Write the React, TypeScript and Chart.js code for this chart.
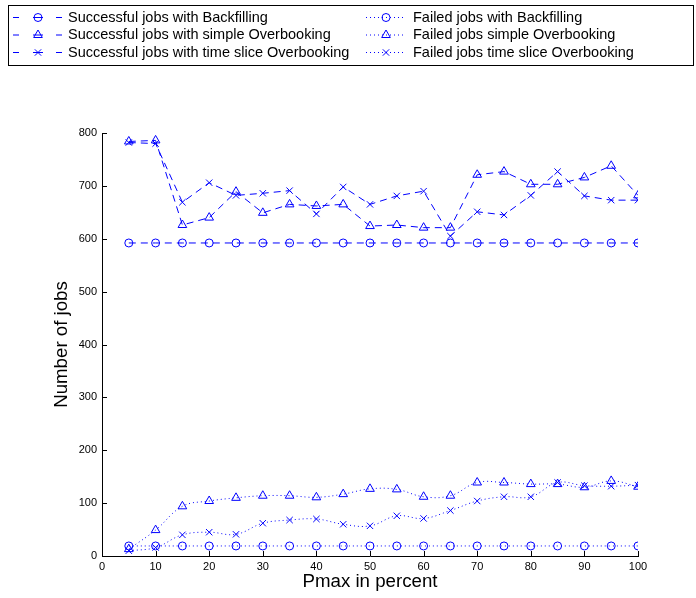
import React, { useEffect, useRef } from 'react';
import { Chart, registerables } from 'chart.js';

Chart.register(...registerables);

const pmax = [5, 10, 15, 20, 25, 30, 35, 40, 45, 50, 55, 60, 65, 70, 75, 80, 85, 90, 95, 100];
const xTicks = [0, 10, 20, 30, 40, 50, 60, 70, 80, 90, 100];
const yTicks = [0, 100, 200, 300, 400, 500, 600, 700, 800];

const succBackfilling = [592, 592, 592, 592, 592, 592, 592, 592, 592, 592, 592, 592, 592, 592, 592, 592, 592, 592, 592, 592];
const succSimple = [784, 786, 626, 640, 689, 649, 665, 662, 665, 624, 626, 621, 621, 721, 727, 703, 703, 716, 738, 682];
const succTimeSlice = [782, 780, 669, 706, 682, 686, 691, 647, 698, 665, 681, 690, 605, 651, 645, 682, 727, 681, 673, 673];
const failBackfilling = [19, 19, 19, 19, 19, 19, 19, 19, 19, 19, 19, 19, 19, 19, 19, 19, 19, 19, 19, 19];
const failSimple = [13, 49, 94, 104, 110, 114, 114, 111, 117, 127, 126, 112, 114, 139, 139, 136, 136, 130, 142, 131];
const failTimeSlice = [10, 16, 40, 45, 41, 62, 68, 70, 60, 57, 76, 71, 86, 104, 112, 112, 139, 133, 132, 134];

const seriesLabels = [
  'Successful jobs with Backfilling',
  'Successful jobs with simple Overbooking',
  'Successful jobs with time slice Overbooking',
  'Failed jobs with Backfilling',
  'Failed jobs simple Overbooking',
  'Failed jobs time slice Overbooking',
];

const xTitle = 'Pmax in percent';
const yTitle = 'Number of jobs';

const BLUE = 'rgb(0,0,255)';
const FONT = '"Liberation Sans", Arial, Helvetica, sans-serif';

type Style = 'circle' | 'triangle' | 'crossRot';

function drawMarker(ctx: CanvasRenderingContext2D, style: Style, x: number, y: number, r: number) {
  ctx.beginPath();
  if (style === 'circle') {
    ctx.arc(x, y, r, 0, Math.PI * 2);
  } else if (style === 'triangle') {
    const h = r * 1.5;
    const w = r * Math.sqrt(3);
    ctx.moveTo(x, y - r);
    ctx.lineTo(x + w / 2, y - r + h);
    ctx.lineTo(x - w / 2, y - r + h);
    ctx.closePath();
  } else {
    const o = r * 0.707;
    ctx.moveTo(x - o, y - o);
    ctx.lineTo(x + o, y + o);
    ctx.moveTo(x + o, y - o);
    ctx.lineTo(x - o, y + o);
  }
  ctx.stroke();
}

const extrasPlugin = {
  id: 'extras',
  afterDraw(chart: any) {
    const ctx: CanvasRenderingContext2D = chart.ctx;
    const xs = chart.scales.x;
    const ys = chart.scales.y;
    const { left, bottom } = chart.chartArea;
    ctx.save();
    // inside tick marks
    ctx.strokeStyle = '#000';
    ctx.lineWidth = 1;
    ctx.setLineDash([]);
    ctx.beginPath();
    ys.ticks.forEach((t: any) => {
      const py = Math.round(ys.getPixelForValue(t.value)) + 0.5;
      ctx.moveTo(left, py);
      ctx.lineTo(left + 5, py);
    });
    xs.ticks.forEach((t: any) => {
      const px = Math.round(xs.getPixelForValue(t.value)) + 0.5;
      ctx.moveTo(px, bottom);
      ctx.lineTo(px, bottom - 5);
    });
    ctx.stroke();

    // legend box
    ctx.strokeStyle = '#000';
    ctx.lineWidth = 1;
    ctx.strokeRect(8.5, 5.5, 685, 60);

    const rows = [17.5, 35, 52.5];
    const ds = chart.data.datasets;
    ctx.font = '14.5px ' + FONT;
    ctx.textBaseline = 'middle';
    ctx.textAlign = 'left';
    for (let i = 0; i < 6; i++) {
      const d = ds[i];
      const col = i < 3 ? 0 : 1;
      const y = rows[i % 3];
      ctx.strokeStyle = BLUE;
      ctx.lineWidth = 1;
      if (col === 0) {
        ctx.setLineDash([]);
        ctx.beginPath();
        ctx.moveTo(13, y); ctx.lineTo(19, y);
        ctx.moveTo(33, y); ctx.lineTo(43, y);
        ctx.moveTo(56, y); ctx.lineTo(62, y);
        ctx.stroke();
        drawMarker(ctx, d.pointStyle, 38, y, d.pointRadius);
      } else {
        ctx.setLineDash([1, 3]);
        ctx.beginPath();
        ctx.moveTo(366, y); ctx.lineTo(406, y);
        ctx.stroke();
        ctx.setLineDash([]);
        drawMarker(ctx, d.pointStyle, 386, y, d.pointRadius);
      }
      ctx.fillStyle = '#000';
      ctx.fillText(d.label, col === 0 ? 68 : 413, y);
    }
    ctx.restore();
  },
};

function mk(label: string, vals: number[], style: Style, dashed: boolean, radius: number) {
  return {
    label,
    data: pmax.map((x, i) => ({ x, y: vals[i] })),
    borderColor: BLUE,
    backgroundColor: 'transparent',
    borderWidth: 1,
    borderDash: dashed ? [7, 5] : [1, 3],
    tension: dashed ? 0 : 0.4,
    pointStyle: style,
    pointRadius: radius,
    pointBorderColor: BLUE,
    pointBackgroundColor: 'transparent',
    pointBorderWidth: 1,
  };
}

export default function App() {
  const ref = useRef<HTMLCanvasElement>(null);
  useEffect(() => {
    document.body.style.margin = '0';
    const chart = new Chart(ref.current as HTMLCanvasElement, {
      type: 'line',
      data: {
        datasets: [
          mk(seriesLabels[0], succBackfilling, 'circle', true, 4),
          mk(seriesLabels[1], succSimple, 'triangle', true, 5),
          mk(seriesLabels[2], succTimeSlice, 'crossRot', true, 4.5),
          mk(seriesLabels[3], failBackfilling, 'circle', false, 4),
          mk(seriesLabels[4], failSimple, 'triangle', false, 5),
          mk(seriesLabels[5], failTimeSlice, 'crossRot', false, 4.5),
        ] as any,
      },
      options: {
        animation: false,
        responsive: false,
        maintainAspectRatio: false,
        layout: { padding: { top: 133, right: 58, left: 0, bottom: 0 } },
        plugins: { legend: { display: false }, tooltip: { enabled: false } },
        scales: {
          x: {
            type: 'linear',
            min: 0,
            max: 100,
            afterFit: (s: any) => { s.height = 42; },
            afterBuildTicks: (s: any) => { s.ticks = xTicks.map((v) => ({ value: v })); },
            grid: { display: false, drawTicks: false },
            border: { display: true, color: '#000', width: 1 },
            ticks: { color: '#000', font: { family: FONT, size: 11 }, padding: 4, maxRotation: 0, autoSkip: false },
            title: { display: true, text: xTitle, color: '#000', font: { family: FONT, size: 18.7 }, padding: { top: 0, bottom: 5 } },
          },
          y: {
            type: 'linear',
            min: 0,
            max: 800,
            afterFit: (s: any) => { s.width = 102; },
            afterBuildTicks: (s: any) => { s.ticks = yTicks.map((v) => ({ value: v })); },
            grid: { display: false, drawTicks: false },
            border: { display: true, color: '#000', width: 1 },
            ticks: { color: '#000', font: { family: FONT, size: 11 }, padding: 5, autoSkip: false },
            title: { display: true, text: yTitle, color: '#000', font: { family: FONT, size: 18.7 }, padding: { top: 51, bottom: 0 } },
          },
        },
      } as any,
      plugins: [extrasPlugin],
    });
    return () => chart.destroy();
  }, []);
  return (
    <div style={{ width: 696, height: 598 }}>
      <canvas ref={ref} width={696} height={598} style={{ display: 'block' }} />
    </div>
  );
}
